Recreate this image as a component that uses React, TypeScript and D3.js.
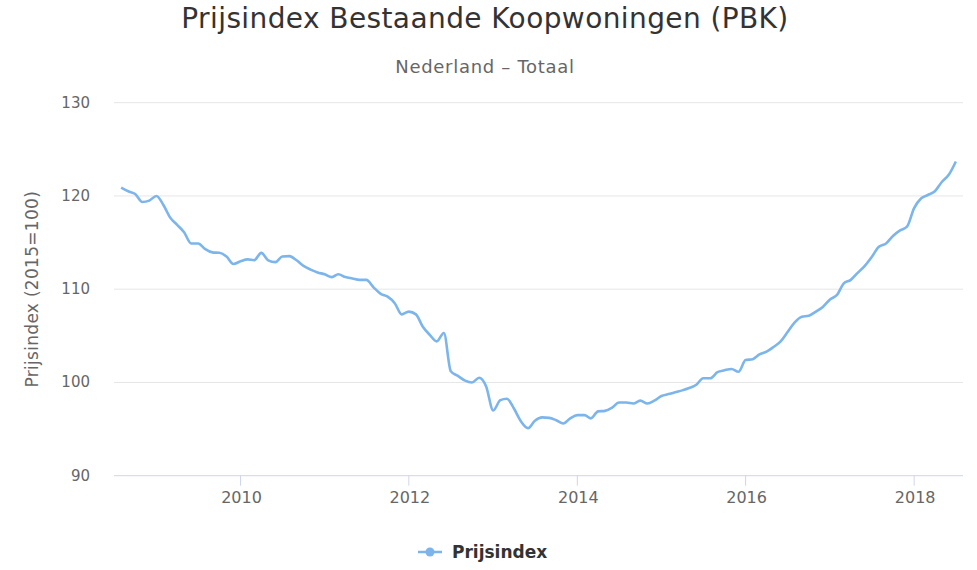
import * as React from 'react';
import * as d3 from 'd3';

const WIDTH = 977;
const HEIGHT = 570;

// Prijsindex per maand, aug 2008 t/m jul 2018 (2015=100)
const START_YEAR = 2008;
const START_MONTH = 7; // augustus (0-based)
const v2008 = [120.9, 120.5, 120.2, 119.35, 119.5];
const v2009 = [120.0, 119.0, 117.7, 116.9, 116.1, 114.9, 114.9, 114.3, 113.95, 113.9, 113.5, 112.7];
const v2010 = [113.0, 113.2, 113.1, 113.9, 113.1, 112.9, 113.5, 113.55, 113.1, 112.5, 112.1, 111.8];
const v2011 = [111.6, 111.3, 111.6, 111.3, 111.15, 111.0, 111.0, 110.2, 109.5, 109.2, 108.5, 107.3];
const v2012 = [107.6, 107.3, 106.0, 105.1, 104.4, 105.3, 101.2, 100.7, 100.2, 100.0, 100.5, 99.6];
const v2013 = [97.0, 98.1, 98.25, 97.2, 95.85, 95.1, 95.9, 96.25, 96.2, 95.95, 95.6, 96.15];
const v2014 = [96.5, 96.5, 96.15, 96.9, 96.95, 97.3, 97.85, 97.85, 97.75, 98.05, 97.75, 98.05];
const v2015 = [98.55, 98.75, 98.95, 99.15, 99.4, 99.75, 100.45, 100.45, 101.1, 101.3, 101.45, 101.15];
const v2016 = [102.4, 102.5, 103.0, 103.3, 103.8, 104.4, 105.4, 106.45, 107.05, 107.15, 107.6, 108.1];
const v2017 = [108.9, 109.4, 110.6, 111.0, 111.75, 112.5, 113.45, 114.55, 114.9, 115.7, 116.3, 116.7];
const v2018 = [118.7, 119.75, 120.1, 120.5, 121.5, 122.3, 123.7];

const values = [...v2008, ...v2009, ...v2010, ...v2011, ...v2012, ...v2013, ...v2014, ...v2015, ...v2016, ...v2017, ...v2018];

const yTicks = [90, 100, 110, 120, 130];
const xTickYears = [2010, 2012, 2014, 2016, 2018];

const TITLE = 'Prijsindex Bestaande Koopwoningen (PBK)';
const SUBTITLE = 'Nederland – Totaal';
const Y_TITLE = 'Prijsindex (2015=100)';
const SERIES_NAME = 'Prijsindex';

const FONT = '"DejaVu Sans", "Open Sans", sans-serif';
const LINE_COLOR = '#7cb5ec';

const margin = { left: 114, right: 14, top: 102.7, bottom: 94.3 };

export default function App() {
  const data = values.map((v, i) => ({
    date: new Date(START_YEAR, START_MONTH + i, 1),
    value: v,
  }));

  const x = d3
    .scaleTime()
    .domain([new Date(2008, 6, 1), new Date(2018, 7, 1)])
    .range([margin.left, WIDTH - margin.right]);

  const y = d3
    .scaleLinear()
    .domain([90, 130])
    .range([HEIGHT - margin.bottom, margin.top]);

  const line = d3
    .line<{ date: Date; value: number }>()
    .x(d => x(d.date))
    .y(d => y(d.value))
    .curve(d3.curveMonotoneX);

  const plotBottom = y(90);
  const plotMid = (y(90) + y(130)) / 2;

  return (
    <svg
      width={WIDTH}
      height={HEIGHT}
      style={{ position: 'absolute', left: 0, top: 0, background: '#fff' }}
      fontFamily={FONT}
    >
      <text x={485} y={28} textAnchor="middle" fontSize={28} letterSpacing={0.4} fill="#333">
        {TITLE}
      </text>
      <text x={485} y={73} textAnchor="middle" fontSize={18} letterSpacing={0.7} fill="#666">
        {SUBTITLE}
      </text>

      {/* rasterlijnen */}
      {yTicks.map(t => (
        <g key={t}>
          {t !== 90 && (
            <line x1={x.range()[0]} x2={x.range()[1]} y1={y(t)} y2={y(t)} stroke="#e6e6e6" />
          )}
          <text x={90} y={y(t) + 5} textAnchor="end" fontSize={15} fill="#666">
            {t}
          </text>
        </g>
      ))}

      {/* x-as */}
      <line x1={x.range()[0]} x2={x.range()[1]} y1={plotBottom} y2={plotBottom} stroke="#ccd6eb" />
      {xTickYears.map(yr => {
        const px = x(new Date(yr, 0, 1));
        return (
          <g key={yr}>
            <line x1={px} x2={px} y1={plotBottom} y2={plotBottom + 10} stroke="#ccd6eb" />
            <text x={px + 1} y={503} textAnchor="middle" fontSize={16} fill="#666">
              {yr}
            </text>
          </g>
        );
      })}

      <text
        transform={`translate(38,${plotMid}) rotate(-90)`}
        textAnchor="middle"
        fontSize={17}
        letterSpacing={0.3}
        fill="#666"
      >
        {Y_TITLE}
      </text>

      <path d={line(data) ?? ''} fill="none" stroke={LINE_COLOR} strokeWidth={2.6} strokeLinejoin="round" />

      {/* legenda */}
      <g>
        <line x1={418} x2={442} y1={552} y2={552} stroke={LINE_COLOR} strokeWidth={2.5} />
        <circle cx={430} cy={552} r={4.5} fill={LINE_COLOR} />
        <text x={452} y={558} fontSize={17} fontWeight="bold" fill="#333">
          {SERIES_NAME}
        </text>
      </g>
    </svg>
  );
}
